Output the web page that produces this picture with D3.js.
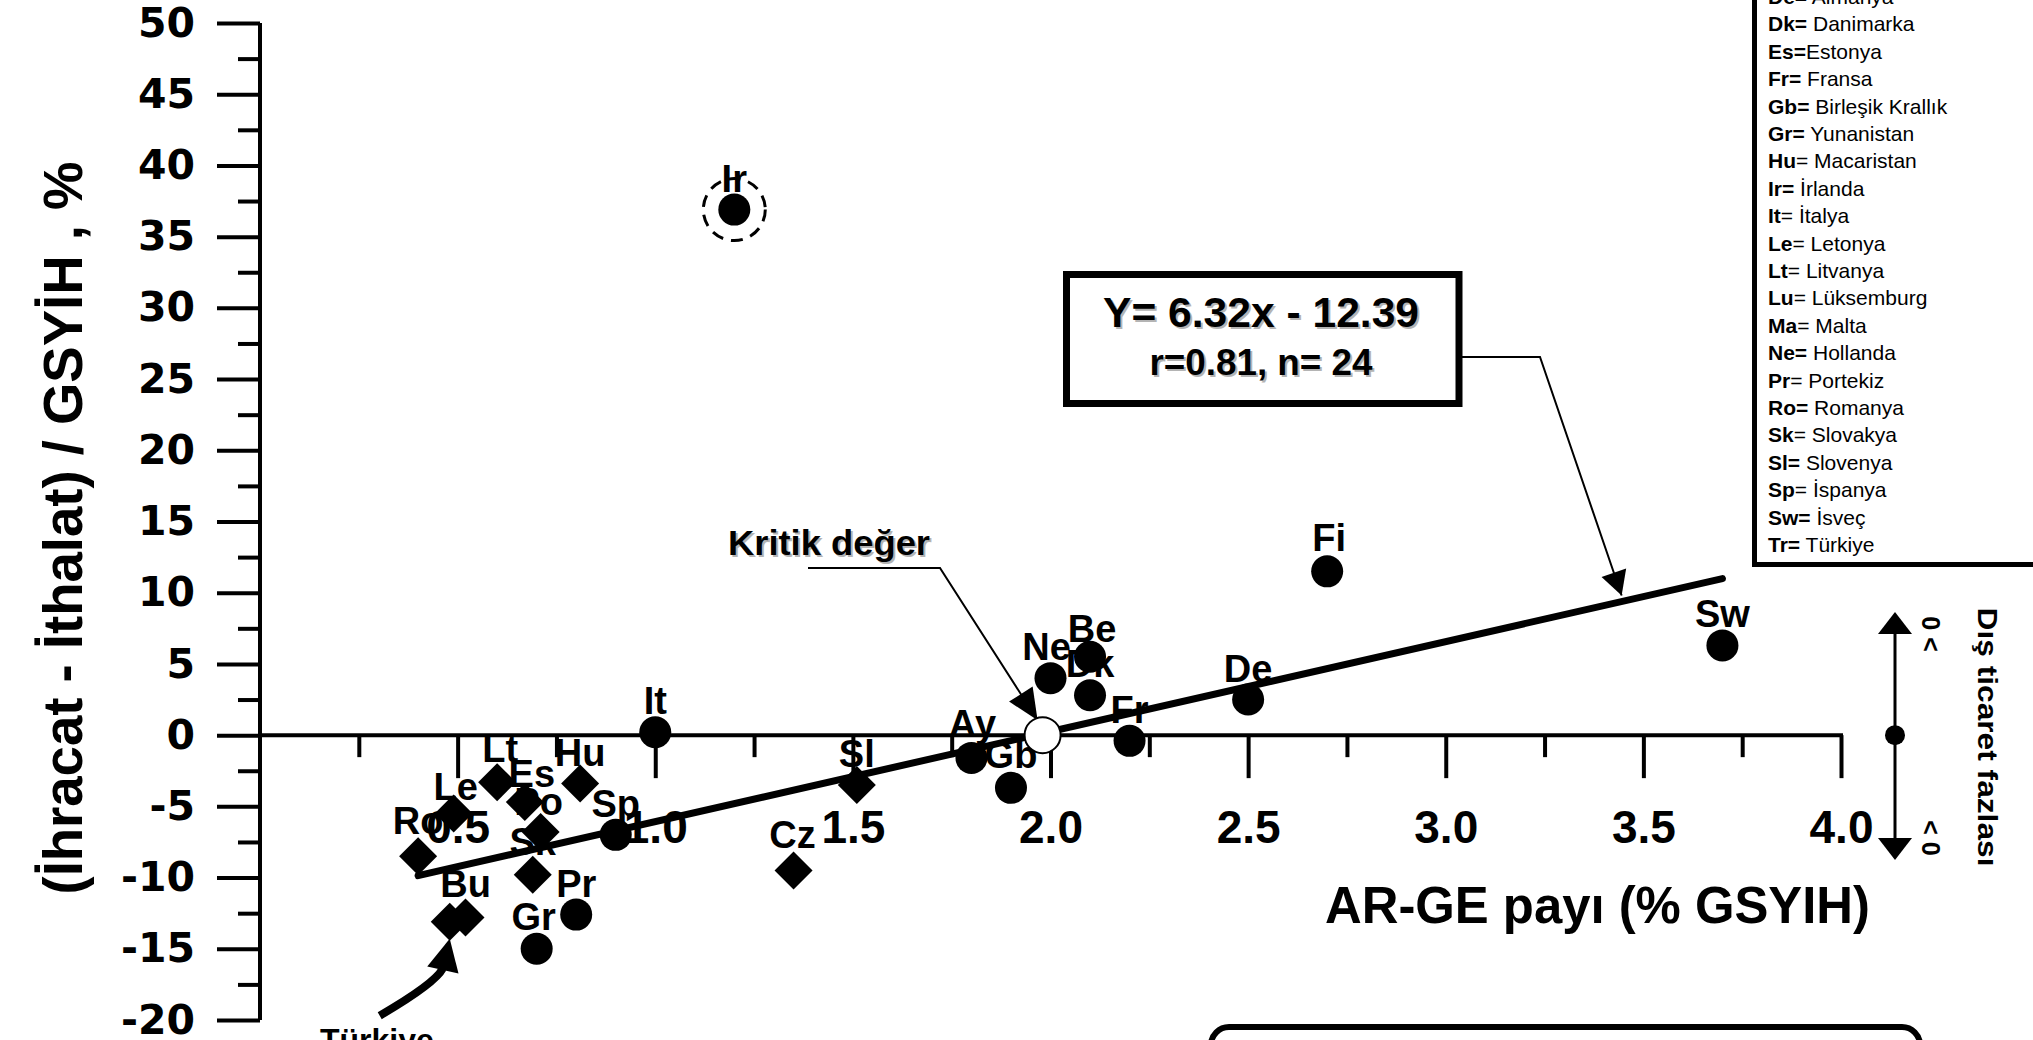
<!DOCTYPE html>
<html>
<head>
<meta charset="utf-8">
<script src="https://cdn.jsdelivr.net/npm/d3@7"></script>
<style>
html, body { margin: 0; padding: 0; background: #fff; }
svg { display: block; }
</style>
</head>
<body>
<svg id="chart" width="2033" height="1040"></svg>
<script>
// ---- DATA ----
const codes    = ['Ir','It','Fi','Sw','De','Be','Ne','Dk','Fr','Ay','Gb','Sl','Cz','Sp','Hu','Pr','Gr','Lt','Le','Es','Po','Sk','Ro','Tr','Bu'];
const rdShare  = [1.20,1.00,2.70,3.70,2.50,2.10,2.00,2.10,2.20,1.80,1.90,1.51,1.35,0.90,0.81,0.80,0.70,0.60,0.49,0.67,0.71,0.69,0.40,0.48,0.52];
const tradeBal = [36.9,0.2,11.5,6.3,2.5,5.5,4.0,2.8,-0.4,-1.6,-3.7,-3.5,-9.5,-7.0,-3.4,-12.6,-15.0,-3.3,-5.5,-4.7,-6.8,-9.8,-8.5,-13.1,-12.8];
const diamondCodes = ['Sl','Cz','Hu','Lt','Le','Es','Po','Sk','Ro','Tr','Bu'];
const unlabeled = ['Tr'];
const outlier = 'Ir';

const regSlope = 6.32, regIntercept = -12.39;
const regRange = [0.40, 3.70];
const critical = 1.98;

const xTicks = [0.5, 1.0, 1.5, 2.0, 2.5, 3.0, 3.5, 4.0];
const yTicks = [-20, -15, -10, -5, 0, 5, 10, 15, 20, 25, 30, 35, 40, 45, 50];

const legendCodes = ['De','Dk','Es','Fr','Gb','Gr','Hu','Ir','It','Le','Lt','Lu','Ma','Ne','Pr','Ro','Sk','Sl','Sp','Sw','Tr'];
const legendNames = ['Almanya','Danimarka','Estonya','Fransa','Birleşik Krallık','Yunanistan','Macaristan','İrlanda','İtalya','Letonya','Litvanya','Lüksemburg','Malta','Hollanda','Portekiz','Romanya','Slovakya','Slovenya','İspanya','İsveç','Türkiye'];
const legendEqBold = ['De','Dk','Es','Fr','Gb','Gr','Ir','Ne','Ro','Sl','Sw','Tr'];

// label nudges (layout only)
const labelNudge = {
    Be: [2, -15], Ne: [-4, -18], Ay: [1, -21], Gb: [0, -20], Cz: [-1, -22],
    Gr: [-3, -19], Lt: [3, -20], Le: [2, -13], Es: [7, -15], Po: [-2, -17],
    Sk: [0, -20], Ro: [0, -22], Fi: [2, -20], Bu: [0, -20]
};

const FONT = '"Liberation Sans", Arial, sans-serif';
const svg = d3.select('#chart');

const x = d3.scaleLinear().domain([0, 4]).range([260, 1841]);
const y = d3.scaleLinear().domain([-20, 50]).range([1020, 23]);

const points = codes.map((c, i) => ({ code: c, x: rdShare[i], y: tradeBal[i] }));

function arrowHead(g, x1, y1, x2, y2, len, half) {
    const a = Math.atan2(y2 - y1, x2 - x1);
    const bx = x2 - len * Math.cos(a), by = y2 - len * Math.sin(a);
    const px = -Math.sin(a) * half, py = Math.cos(a) * half;
    g.append('path')
        .attr('d', `M${x2},${y2}L${bx + px},${by + py}L${bx - px},${by - py}Z`)
        .attr('fill', '#000');
}

function shadowText(g, tx, ty, str, size, anchor, len) {
    [['#b4b4b4', 2], ['#000', 0]].forEach(([col, off]) => {
        const t = g.append('text')
            .attr('x', tx + off).attr('y', ty + off)
            .attr('text-anchor', anchor)
            .style('font-family', FONT).style('font-weight', 'bold')
            .style('font-size', size + 'px')
            .attr('fill', col)
            .text(str);
        if (len) t.attr('textLength', len).attr('lengthAdjust', 'spacingAndGlyphs');
    });
}

// ---- AXES ----
const gY = svg.append('g').attr('transform', `translate(${x(0)},0)`);
gY.call(d3.axisLeft(y).tickValues(yTicks).tickSize(43).tickSizeOuter(0).tickPadding(22).tickFormat(d => String(d)));
gY.append('g').call(d3.axisLeft(y).tickValues(d3.range(-17.5, 50, 5)).tickSize(22).tickFormat(''))
    .select('.domain').remove();
gY.selectAll('path.domain').attr('stroke-width', 4).attr('d', `M0,${y(50)}V${y(-20)}`);
gY.selectAll('line').attr('stroke-width', 4);
gY.selectAll('text')
    .style('font-family', '"DejaVu Sans", sans-serif').style('font-weight', 'bold')
    .style('font-size', '41px').attr('fill', '#000');

const gX = svg.append('g').attr('transform', `translate(0,${y(0)})`);
gX.call(d3.axisBottom(x).tickValues(xTicks).tickSize(43).tickSizeOuter(0).tickFormat(d3.format('.1f')));
gX.append('g').call(d3.axisBottom(x).tickValues(d3.range(0.25, 4, 0.5)).tickSize(22).tickFormat(''))
    .select('.domain').remove();
gX.selectAll('path.domain').attr('stroke-width', 4).attr('d', `M${x(0) - 2},0H${x(4) + 2}`);
gX.selectAll('line').attr('stroke-width', 4);
gX.selectAll('.tick text')
    .attr('y', 108).attr('dy', 0)
    .style('font-family', FONT).style('font-weight', 'bold')
    .style('font-size', '46px').attr('fill', '#000');

// axis titles
svg.append('text')
    .attr('transform', `translate(82,528) rotate(-90)`)
    .attr('text-anchor', 'middle')
    .style('font-family', FONT).style('font-weight', 'bold').style('font-size', '55px')
    .attr('textLength', 733).attr('lengthAdjust', 'spacingAndGlyphs')
    .text('(İhracat - İthalat) / GSYİH , %');

svg.append('text')
    .attr('x', 1325).attr('y', 923)
    .style('font-family', FONT).style('font-weight', 'bold').style('font-size', '52px')
    .attr('textLength', 545).attr('lengthAdjust', 'spacingAndGlyphs')
    .text('AR-GE payı (% GSYIH)');

// ---- REGRESSION LINE ----
const reg = v => regSlope * v + regIntercept;
svg.append('path')
    .datum(regRange)
    .attr('d', d3.line().x(d => x(d)).y(d => y(reg(d))))
    .attr('stroke', '#000').attr('stroke-width', 7).attr('stroke-linecap', 'round').attr('fill', 'none');

// ---- POINT LABELS ----
svg.append('g').selectAll('text')
    .data(points.filter(p => !unlabeled.includes(p.code)))
    .join('text')
    .attr('x', p => x(p.x) + (labelNudge[p.code] || [0, -18])[0])
    .attr('y', p => y(p.y) + (labelNudge[p.code] || [0, -18])[1])
    .attr('text-anchor', 'middle')
    .style('font-family', FONT).style('font-weight', 'bold').style('font-size', '38px')
    .text(p => p.code);

// ---- MARKERS ----
const gM = svg.append('g');
gM.selectAll('circle.pt')
    .data(points.filter(p => !diamondCodes.includes(p.code)))
    .join('circle').attr('class', 'pt')
    .attr('cx', p => x(p.x)).attr('cy', p => y(p.y)).attr('r', 16).attr('fill', '#000');
gM.selectAll('path.pt')
    .data(points.filter(p => diamondCodes.includes(p.code)))
    .join('path').attr('class', 'pt')
    .attr('transform', p => `translate(${x(p.x)},${y(p.y)})`)
    .attr('d', 'M0,-19L19,0L0,19L-19,0Z').attr('fill', '#000');

// dashed ring round the outlier
const ir = points.find(p => p.code === outlier);
svg.append('circle')
    .attr('cx', x(ir.x)).attr('cy', y(ir.y)).attr('r', 31)
    .attr('fill', 'none').attr('stroke', '#000').attr('stroke-width', 3).attr('stroke-dasharray', '12 8');

// ---- CRITICAL VALUE ----
const cx0 = x(critical), cy0 = y(0);
const gK = svg.append('g');
gK.append('polyline')
    .attr('points', `808,568 940,568 ${cx0 - 5},${cy0 - 15}`)
    .attr('fill', 'none').attr('stroke', '#000').attr('stroke-width', 2);
arrowHead(gK, 940, 568, cx0 - 5, cy0 - 15, 31, 14);
shadowText(gK, 728, 555, 'Kritik değer', 35, 'start', 202);
svg.append('circle')
    .attr('cx', cx0).attr('cy', cy0).attr('r', 18)
    .attr('fill', '#fff').attr('stroke', '#000').attr('stroke-width', 2);

// ---- EQUATION BOX ----
const gE = svg.append('g');
gE.append('rect').attr('x', 1066.5).attr('y', 274.5).attr('width', 392.5).attr('height', 129)
    .attr('fill', '#fff').attr('stroke', '#000').attr('stroke-width', 7);
shadowText(gE, 1261, 327, 'Y= 6.32x - 12.39', 43, 'middle', 316);
shadowText(gE, 1261, 375, 'r=0.81, n= 24', 36, 'middle', 223);
const tipX = x(3.445), tipY = y(reg(3.445)) - 6;
gE.append('polyline')
    .attr('points', `1462,357 1540,357 ${tipX},${tipY}`)
    .attr('fill', 'none').attr('stroke', '#000').attr('stroke-width', 2);
arrowHead(gE, 1540, 357, tipX, tipY, 24, 13);

// ---- TURKIYE ANNOTATION ----
const tr = points.find(p => p.code === 'Tr');
const tx = x(tr.x), ty = y(tr.y) + 17;
const gT = svg.append('g');
gT.append('path')
    .attr('d', `M${tx - 70},${ty + 77}Q${tx - 15},${ty + 45} ${tx - 7},${ty + 30}`)
    .attr('fill', 'none').attr('stroke', '#000').attr('stroke-width', 8);
arrowHead(gT, tx - 7, ty + 32, tx, ty, 32, 16);
gT.append('text').attr('x', 320).attr('y', 1051)
    .style('font-family', FONT).style('font-weight', 'bold').style('font-size', '32px')
    .text('Türkiye');

// ---- TRADE-SURPLUS INDICATOR ----
const gI = svg.append('g');
const ix = 1895;
gI.append('line').attr('x1', ix).attr('x2', ix).attr('y1', 625).attr('y2', 848)
    .attr('stroke', '#000').attr('stroke-width', 3);
arrowHead(gI, ix, 700, ix, 612, 22, 17);
arrowHead(gI, ix, 770, ix, 860, 22, 17);
gI.append('circle').attr('cx', ix).attr('cy', y(0)).attr('r', 10).attr('fill', '#000');
[['0 <', 634], ['< 0', 838]].forEach(([s, cy]) => {
    gI.append('text').attr('transform', `translate(1922,${cy}) rotate(90)`)
        .attr('text-anchor', 'middle')
        .style('font-family', FONT).style('font-weight', 'bold').style('font-size', '25px')
        .text(s);
});
gI.append('text').attr('transform', `translate(1978,737) rotate(90)`)
    .attr('text-anchor', 'middle')
    .style('font-family', FONT).style('font-weight', 'bold').style('font-size', '27px')
    .attr('textLength', 259).attr('lengthAdjust', 'spacingAndGlyphs')
    .text('Dış ticaret fazlası');

// ---- LEGEND (top cut off) ----
const gL = svg.append('g');
gL.append('rect').attr('x', 1754.5).attr('y', -60).attr('width', 400).attr('height', 624.5)
    .attr('fill', '#fff').attr('stroke', '#000').attr('stroke-width', 5);
legendCodes.forEach((c, i) => {
    const t = gL.append('text').attr('x', 1768).attr('y', 4 + i * 27.4)
        .style('font-family', FONT).style('font-size', '21px');
    t.append('tspan').style('font-weight', 'bold').text(c);
    t.append('tspan').style('font-weight', legendEqBold.includes(c) ? 'bold' : 'normal').text('=');
    t.append('tspan').text((c === 'Es' ? '' : ' ') + legendNames[i]);
});

// ---- BOTTOM BOX (cut off) ----
svg.append('rect').attr('x', 1211).attr('y', 1027).attr('width', 709).attr('height', 100).attr('rx', 18)
    .attr('fill', 'none').attr('stroke', '#000').attr('stroke-width', 6);
</script>
</body>
</html>
